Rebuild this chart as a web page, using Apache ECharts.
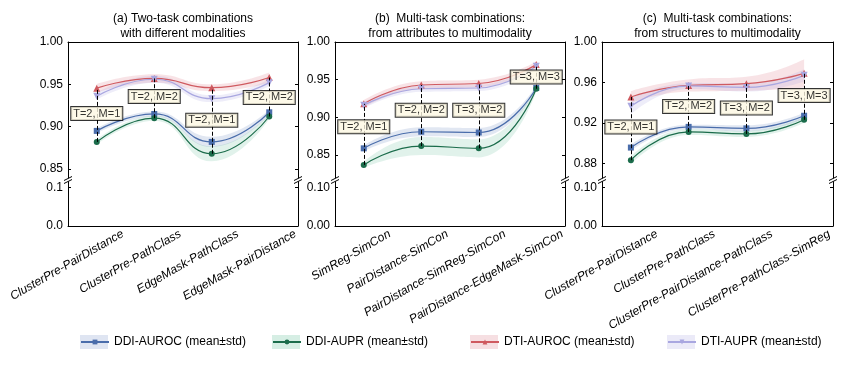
<!DOCTYPE html>
<html>
<head>
<meta charset="utf-8">
<script src="https://cdn.jsdelivr.net/npm/echarts@6/dist/echarts.min.js"></script>
<style>
  html, body { margin: 0; background: #fff; }
  #chart { width: 858px; height: 375px; }
</style>
</head>
<body>
<div id="chart"></div>
<script>
// (a) two-task combinations
const catA = ['ClusterPre-PairDistance', 'ClusterPre-PathClass', 'EdgeMask-PathClass', 'EdgeMask-PairDistance'];
const tagsA = ['T=2, M=1', 'T=2, M=2', 'T=2, M=1', 'T=2, M=2'];
const ddiAurocA = [0.895, 0.915, 0.882, 0.917];
const ddiAurocStdA = [0.003, 0.003, 0.006, 0.003];
const ddiAuprA = [0.882, 0.910, 0.868, 0.912];
const ddiAuprStdA = [0.003, 0.003, 0.009, 0.003];
const dtiAurocA = [0.9455, 0.957, 0.946, 0.958];
const dtiAurocStdA = [0.005, 0.005, 0.004, 0.006];
const dtiAuprA = [0.936, 0.956, 0.933, 0.952];
const dtiAuprStdA = [0.004, 0.004, 0.004, 0.004];

// (b) attributes -> multimodality
const catB = ['SimReg-SimCon', 'PairDistance-SimCon', 'PairDistance-SimReg-SimCon', 'PairDistance-EdgeMask-SimCon'];
const tagsB = ['T=2, M=1', 'T=2, M=2', 'T=3, M=2', 'T=3, M=3'];
const ddiAurocB = [0.859, 0.881, 0.880, 0.939];
const ddiAurocStdB = [0.004, 0.006, 0.006, 0.003];
const ddiAuprB = [0.837, 0.862, 0.859, 0.938];
const ddiAuprStdB = [0.004, 0.012, 0.012, 0.004];
const dtiAurocB = [0.918, 0.943, 0.945, 0.970];
const dtiAurocStdB = [0.005, 0.005, 0.005, 0.004];
const dtiAuprB = [0.916, 0.938, 0.939, 0.968];
const dtiAuprStdB = [0.004, 0.004, 0.004, 0.004];

// (c) structures -> multimodality
const catC = ['ClusterPre-PairDistance', 'ClusterPre-PathClass', 'ClusterPre-PairDistance-PathClass', 'ClusterPre-PathClass-SimReg'];
const tagsC = ['T=2, M=1', 'T=2, M=2', 'T=3, M=2', 'T=3, M=3'];
const ddiAurocC = [0.8955, 0.916, 0.9145, 0.927];
const ddiAurocStdC = [0.003, 0.002, 0.003, 0.003];
const ddiAuprC = [0.883, 0.911, 0.909, 0.923];
const ddiAuprStdC = [0.004, 0.003, 0.003, 0.003];
const dtiAurocC = [0.9456, 0.957, 0.9587, 0.969];
const dtiAurocStdC = [0.006, 0.006, 0.007, 0.014];
const dtiAuprC = [0.9364, 0.9565, 0.955, 0.967];
const dtiAuprStdC = [0.008, 0.003, 0.004, 0.006];

// tick labels
const upTicksAB = [0.85, 0.90, 0.95, 1.00];
const upTicksC = [0.88, 0.92, 0.96, 1.00];
const lowTicks = [0, 0.1];

const FONT = 'Liberation Sans, Arial, sans-serif';

const metrics = [
    { name: 'DDI-AUROC (mean±std)', color: '#4a6dab', band: 'rgba(80,110,180,0.17)', legendBand: '#dfe5f2', symbol: 'rect', size: 6, rotate: 0, legendX: 80 },
    { name: 'DDI-AUPR (mean±std)', color: '#1b6c4b', band: 'rgba(70,175,130,0.16)', legendBand: '#d6eee4', symbol: 'circle', size: 6, rotate: 0, legendX: 272 },
    { name: 'DTI-AUROC (mean±std)', color: '#cf5a60', band: 'rgba(215,100,115,0.18)', legendBand: '#f6dfe2', symbol: 'triangle', size: 7, rotate: 0, legendX: 470 },
    { name: 'DTI-AUPR (mean±std)', color: '#a9a7e0', band: 'rgba(170,165,225,0.2)', legendBand: '#ebeaf8', symbol: 'triangle', size: 7, rotate: 180, legendX: 667 }
];

const panels = [
    { cats: catA, tags: tagsA, means: [ddiAurocA, ddiAuprA, dtiAurocA, dtiAuprA], stds: [ddiAurocStdA, ddiAuprStdA, dtiAurocStdA, dtiAuprStdA],
      title: '(a) Two-task combinations\nwith different modalities', left: 68, width: 230, yMin: 0.837, upTicks: upTicksAB, lowDigits: 1 },
    { cats: catB, tags: tagsB, means: [ddiAurocB, ddiAuprB, dtiAurocB, dtiAuprB], stds: [ddiAurocStdB, ddiAuprStdB, dtiAurocStdB, dtiAuprStdB],
      title: '(b)  Multi-task combinations:\nfrom attributes to multimodality', left: 335, width: 230, yMin: 0.817, upTicks: upTicksAB, lowDigits: 2 },
    { cats: catC, tags: tagsC, means: [ddiAurocC, ddiAuprC, dtiAurocC, dtiAuprC], stds: [ddiAurocStdC, ddiAuprStdC, dtiAurocStdC, dtiAuprStdC],
      title: '(c)  Multi-task combinations:\nfrom structures to multimodality', left: 602, width: 231, yMin: 0.8634, upTicks: upTicksC, lowDigits: 2 }
];

const TOP = 42, BREAK = 180, BOTTOM = 226;
const black = { color: '#000', width: 1 };

const grid = [], xAxis = [], yAxis = [], series = [], graphic = [];

panels.forEach((p, pi) => {
    const g0 = grid.length;
    grid.push({ left: p.left, width: p.width, top: TOP, height: BREAK - TOP });
    grid.push({ left: p.left, width: p.width, top: BREAK, height: BOTTOM - BREAK });
    // shifted grid only for the rotated category labels
    grid.push({ left: p.left + 26, width: p.width, top: BREAK, height: BOTTOM - BREAK });

    const x0 = xAxis.length;
    const tick = { inside: true, alignWithLabel: true, length: 4, lineStyle: black };
    xAxis.push({ type: 'category', gridIndex: g0, data: p.cats, position: 'top', axisLine: { lineStyle: black }, axisTick: tick, axisLabel: { show: false } });
    xAxis.push({ type: 'category', gridIndex: g0 + 1, data: p.cats, position: 'bottom', axisLine: { lineStyle: black }, axisTick: tick, axisLabel: { show: false } });
    xAxis.push({ type: 'category', gridIndex: g0 + 2, data: p.cats, position: 'bottom', axisLine: { show: false }, axisTick: { show: false },
        axisLabel: { interval: 0, rotate: 30, margin: 7, fontStyle: 'italic', fontSize: 12, fontFamily: FONT, color: '#000' } });

    const y0 = yAxis.length;
    const upper = { type: 'value', gridIndex: g0, min: p.yMin, max: 1, splitLine: { show: false },
        axisLine: { show: true, lineStyle: black },
        axisTick: { show: true, inside: true, length: 3, customValues: p.upTicks, lineStyle: black } };
    yAxis.push(Object.assign({}, upper, { position: 'left',
        axisLabel: { customValues: p.upTicks, formatter: v => v.toFixed(2), margin: 5, fontSize: 12, fontFamily: FONT, color: '#000' } }));
    yAxis.push(Object.assign({}, upper, { position: 'right', axisLabel: { show: false } }));
    const lower = { type: 'value', gridIndex: g0 + 1, min: 0, max: 0.12, splitLine: { show: false },
        axisLine: { show: true, lineStyle: black },
        axisTick: { show: true, inside: true, length: 3, customValues: lowTicks, lineStyle: black } };
    yAxis.push(Object.assign({}, lower, { position: 'left',
        axisLabel: { customValues: lowTicks, formatter: v => v.toFixed(p.lowDigits), margin: 5, fontSize: 12, fontFamily: FONT, color: '#000' } }));
    yAxis.push(Object.assign({}, lower, { position: 'right', axisLabel: { show: false } }));
    yAxis.push({ type: 'value', gridIndex: g0 + 2, show: false });

    // std bands: stacked (mean - std) + (2 * std)
    metrics.forEach((m, mi) => {
        const stack = 'band' + pi + '_' + mi;
        const mean = p.means[mi], sd = p.stds[mi];
        const common = { type: 'line', xAxisIndex: x0, yAxisIndex: y0, stack, smooth: 0.5, symbol: 'none', silent: true, z: 1, lineStyle: { opacity: 0, width: 0 } };
        series.push(Object.assign({}, common, { data: mean.map((v, i) => v - sd[i]) }));
        series.push(Object.assign({}, common, { data: sd.map(s => 2 * s), areaStyle: { color: m.band, opacity: 1 } }));
    });

    // dashed connectors between the points of each combination
    series.push({
        type: 'line', xAxisIndex: x0, yAxisIndex: y0, data: [], z: 2,
        markLine: {
            silent: true, symbol: ['none', 'none'], label: { show: false },
            lineStyle: { type: 'dashed', color: '#000', width: 1 },
            data: p.cats.map((c, i) => {
                const vals = p.means.map(a => a[i]);
                return [{ coord: [i, Math.min(...vals)] }, { coord: [i, Math.max(...vals)] }];
            })
        }
    });

    metrics.forEach((m, mi) => {
        series.push({
            type: 'line', name: m.name, xAxisIndex: x0, yAxisIndex: y0, data: p.means[mi], smooth: 0.5,
            symbol: m.symbol, symbolSize: m.size, symbolRotate: m.rotate, z: 3,
            itemStyle: { color: m.color }, lineStyle: { color: m.color, width: 1.2 }
        });
    });

    // T/M tags, sitting between DTI-AUPR and DDI-AUROC
    series.push({
        type: 'scatter', xAxisIndex: x0, yAxisIndex: y0, z: 5, symbolSize: 1, silent: true,
        itemStyle: { color: 'rgba(0,0,0,0)' },
        data: p.cats.map((c, i) => [i, (p.means[3][i] + p.means[0][i]) / 2]),
        label: {
            show: true, position: 'inside', formatter: prm => p.tags[prm.dataIndex],
            fontSize: 11, fontFamily: FONT, color: '#000', lineHeight: 12,
            backgroundColor: '#fdf7e2', borderColor: '#000', borderWidth: 1, padding: [1, 2, 0, 2]
        }
    });

    graphic.push({
        type: 'text', x: p.left + p.width / 2, y: 11,
        style: { text: p.title, align: 'center', fontSize: 12, fontFamily: FONT, fill: '#000', lineHeight: 15 }
    });

    // axis break marks on both sides
    [p.left, p.left + p.width].forEach(x => {
        const y = BREAK;
        graphic.push({ type: 'polygon', z: 100, shape: { points: [[x - 4, y + 0.5], [x + 4, y - 3.5], [x + 4, y - 0.5], [x - 4, y + 3.5]] }, style: { fill: '#fff' } });
        graphic.push({ type: 'line', z: 101, shape: { x1: x - 4, y1: y + 0.5, x2: x + 4, y2: y - 3.5 }, style: { stroke: '#000', lineWidth: 1 } });
        graphic.push({ type: 'line', z: 101, shape: { x1: x - 4, y1: y + 3.5, x2: x + 4, y2: y - 0.5 }, style: { stroke: '#000', lineWidth: 1 } });
    });
});

// one pair of legends per item: a band-coloured rect under the line+symbol icon
const legendText = { fontSize: 12, lineHeight: 14, fontFamily: FONT };
const legend = [];
metrics.forEach(m => {
    const base = { left: m.legendX - 5, top: 330, itemWidth: 28, selectedMode: false };
    legend.push(Object.assign({}, base, {
        itemHeight: 14, z: 4,
        data: [{ name: m.name, icon: 'rect', itemStyle: { color: m.legendBand, borderWidth: 0 } }],
        textStyle: Object.assign({ color: 'rgba(0,0,0,0)' }, legendText)
    }));
    legend.push(Object.assign({}, base, {
        itemHeight: 6, z: 5,
        data: [m.name],
        textStyle: Object.assign({ color: '#000' }, legendText)
    }));
});

const option = {
    animation: false,
    backgroundColor: '#fff',
    grid, xAxis, yAxis, series, graphic, legend
};

const myChart = echarts.init(document.getElementById('chart'));
myChart.setOption(option);
window.addEventListener('resize', () => myChart.resize());
</script>
</body>
</html>
